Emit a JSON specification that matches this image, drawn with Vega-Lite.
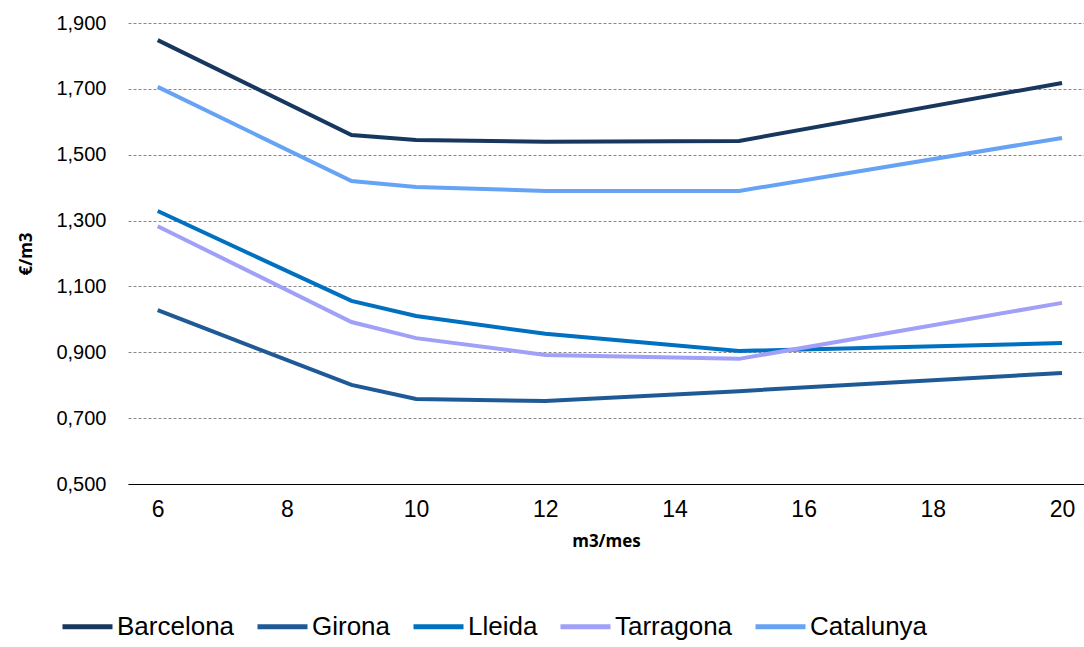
{
  "$schema": "https://vega.github.io/schema/vega-lite/v6.json",
  "width": 956,
  "height": 461,
  "autosize": {"type": "none"},
  "padding": {"left": 128, "right": 0, "top": 23, "bottom": 163},
  "config": {"view": {"stroke": null}, "font": "Liberation Sans"},
  "data": {
    "values": [
      {"m3": 6, "city": "Barcelona", "v": 1.848},
      {"m3": 9, "city": "Barcelona", "v": 1.560},
      {"m3": 10, "city": "Barcelona", "v": 1.545},
      {"m3": 12, "city": "Barcelona", "v": 1.539},
      {"m3": 15, "city": "Barcelona", "v": 1.542},
      {"m3": 20, "city": "Barcelona", "v": 1.718},
      {"m3": 6, "city": "Girona", "v": 1.028},
      {"m3": 9, "city": "Girona", "v": 0.801},
      {"m3": 10, "city": "Girona", "v": 0.758},
      {"m3": 12, "city": "Girona", "v": 0.752},
      {"m3": 15, "city": "Girona", "v": 0.782},
      {"m3": 20, "city": "Girona", "v": 0.837},
      {"m3": 6, "city": "Lleida", "v": 1.329},
      {"m3": 9, "city": "Lleida", "v": 1.056},
      {"m3": 10, "city": "Lleida", "v": 1.010},
      {"m3": 12, "city": "Lleida", "v": 0.956},
      {"m3": 15, "city": "Lleida", "v": 0.904},
      {"m3": 20, "city": "Lleida", "v": 0.928},
      {"m3": 6, "city": "Tarragona", "v": 1.283},
      {"m3": 9, "city": "Tarragona", "v": 0.992},
      {"m3": 10, "city": "Tarragona", "v": 0.943},
      {"m3": 12, "city": "Tarragona", "v": 0.892},
      {"m3": 15, "city": "Tarragona", "v": 0.880},
      {"m3": 20, "city": "Tarragona", "v": 1.050},
      {"m3": 6, "city": "Catalunya", "v": 1.706},
      {"m3": 9, "city": "Catalunya", "v": 1.420},
      {"m3": 10, "city": "Catalunya", "v": 1.402},
      {"m3": 12, "city": "Catalunya", "v": 1.390},
      {"m3": 15, "city": "Catalunya", "v": 1.390},
      {"m3": 20, "city": "Catalunya", "v": 1.551}
    ]
  },
  "mark": {"type": "line", "strokeWidth": 4},
  "encoding": {
    "x": {
      "field": "m3", "type": "quantitative",
      "scale": {"domain": [5.54, 20.34], "nice": false, "zero": false},
      "axis": {"title": "m3/mes", "values": [6, 8, 10, 12, 14, 16, 18, 20], "grid": false,
        "labelFontSize": 23, "titleFontSize": 17, "titleFont": "Open Sans", "titleFontWeight": "bold",
        "labelColor": "#000", "titleColor": "#000", "domainColor": "#000", "ticks": false, "labelPadding": 14, "titlePadding": 12}
    },
    "y": {
      "field": "v", "type": "quantitative",
      "scale": {"domain": [0.5, 1.9], "nice": false, "zero": false},
      "axis": {"title": "€/m3", "values": [0.5, 0.7, 0.9, 1.1, 1.3, 1.5, 1.7, 1.9],
        "labelExpr": "replace(format(datum.value, '.3f'), '.', ',')",
        "gridDash": [3, 2], "gridColor": "#888", "domain": false, "ticks": false,
        "labelFontSize": 20, "titleFontSize": 17, "titleFont": "Open Sans", "titleFontWeight": "bold",
        "labelColor": "#000", "titleColor": "#000", "labelPadding": 22, "titlePadding": 20}
    },
    "color": {
      "field": "city", "type": "nominal",
      "scale": {"domain": ["Barcelona", "Girona", "Lleida", "Tarragona", "Catalunya"],
        "range": ["#17375E", "#1F5A96", "#0070C0", "#A0A0F8", "#66A3F5"]},
      "legend": {"orient": "none", "legendX": -68, "legendY": 576, "direction": "horizontal", "title": null, "symbolType": "stroke",
        "symbolStrokeWidth": 5, "symbolSize": 2500, "labelFontSize": 26, "labelColor": "#000",
        "columnPadding": 12, "symbolOffset": 0, "labelOffset": 2}
    }
  }
}
